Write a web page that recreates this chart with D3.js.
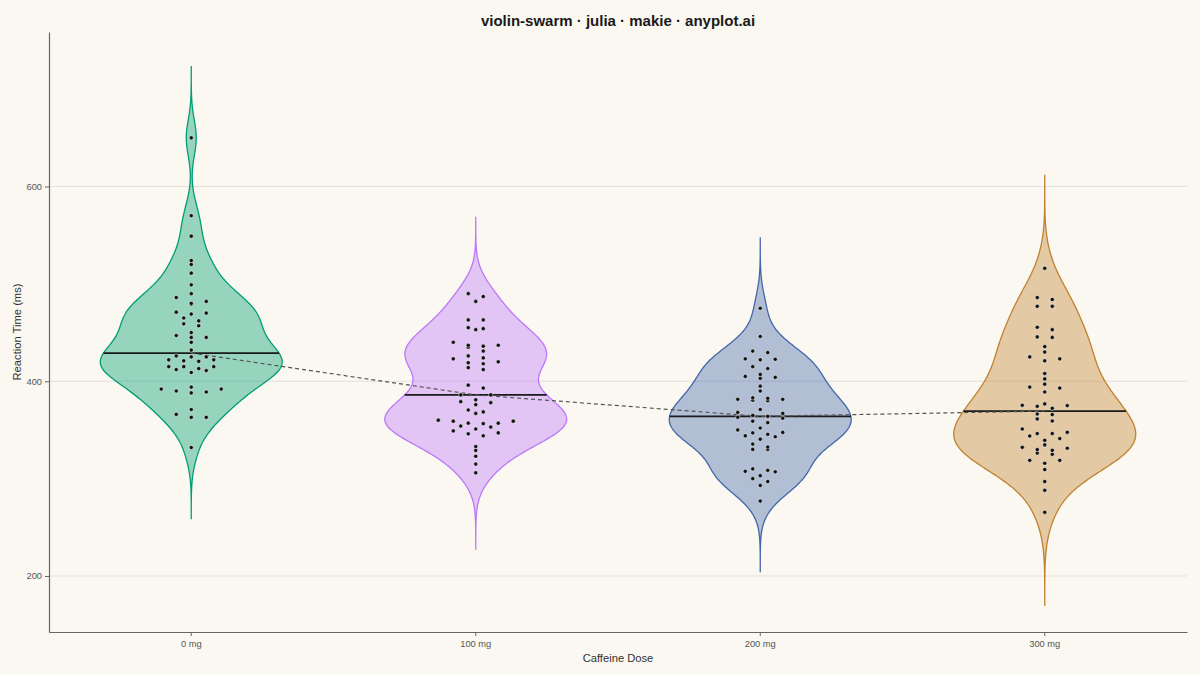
<!DOCTYPE html>
<html>
<head>
<meta charset="utf-8">
<script src="https://cdn.jsdelivr.net/npm/d3@7"></script>
<style>
  html, body { margin: 0; padding: 0; background: #FAF8F1; }
  svg { display: block; font-family: "Liberation Sans", Arial, sans-serif; }
</style>
</head>
<body>
<div id="chart"></div>
<script>
// reaction times (ms) per caffeine dose
const doses = ["0 mg", "100 mg", "200 mg", "300 mg"];
const rt0mg = [650, 570, 549, 524, 520, 511, 499, 490, 486, 482, 480, 479, 471, 470, 469, 465, 462, 459, 457, 450,
  447, 445, 445, 440, 432, 426, 425, 425, 422, 422, 421, 420.5, 415, 415, 415, 413, 412, 411, 409, 394,
  392, 392, 390, 389, 388, 371, 366, 363, 363, 332];
const rt100mg = [490, 487, 482, 463, 463, 455, 454, 453, 440, 437, 437, 436, 435, 431, 426, 424, 423, 420, 419, 418,
  414, 412, 396, 393, 386, 386, 381, 379, 378, 376, 370.5, 368.5, 367, 360, 359, 359, 357, 357, 356.5, 354,
  353, 351, 349, 347, 346, 344, 333, 329, 323, 315, 306];
const rt200mg = [475, 446, 431, 429.5, 423, 422.6, 422, 415, 413, 407, 405, 404, 403, 395, 390, 383, 382.5, 381.5, 381.5, 380.5,
  380, 371, 368, 367, 365, 364, 363, 362, 359, 357.5, 352, 350, 347.5, 347, 345.5, 344, 343, 340.5, 335.5, 332.5,
  330, 330, 310, 308.5, 307.5, 307, 303, 300, 297, 293, 277];
const rt300mg = [516, 486, 484, 477, 477, 455.5, 453, 445.5, 445, 435.6, 430, 425, 423, 421, 408, 402.4, 397, 394, 393, 389,
  376.7, 375.3, 375, 374.3, 372.3, 366.4, 365.8, 361.3, 359.2, 351, 347.6, 346.3, 346.3, 343.8, 341.1, 339.4, 334.6, 332.2, 331.2, 329.8,
  329.1, 326.3, 325, 318.8, 318.8, 315.8, 309.3, 297, 288, 265.4];
const groups = [rt0mg, rt100mg, rt200mg, rt300mg];
const colors = ["#009E73", "#BD77F9", "#4467AA", "#C08231"];
const yTicks = [200, 400, 600];

const width = 1200;
const height = 675;
const margin = { top: 32, right: 13, bottom: 43, left: 49 };

const svg = d3.select("#chart")
  .append("svg")
  .attr("width", width)
  .attr("height", height);

svg.append("rect").attr("width", width).attr("height", height).attr("fill", "#FAF8F1");

const x = d3.scaleBand()
  .domain(doses)
  .range([margin.left, width - margin.right])
  .padding(0);

const y = d3.scaleLinear()
  .domain([142.5, 758.7])
  .range([height - margin.bottom, margin.top]);

const cx = (d) => x(d) + x.bandwidth() / 2;

//grid
svg.append("g")
  .selectAll("line")
  .data(yTicks)
  .enter()
  .append("line")
  .attr("x1", margin.left)
  .attr("x2", width - margin.right)
  .attr("y1", (d) => y(d))
  .attr("y2", (d) => y(d))
  .attr("stroke", "#E3E1DA")
  .attr("stroke-width", 1);

//kde helpers
function silverman(v) {
  const s = d3.deviation(v);
  const sorted = v.slice().sort(d3.ascending);
  const iqr = d3.quantileSorted(sorted, 0.75) - d3.quantileSorted(sorted, 0.25);
  return 0.9 * Math.min(s, iqr / 1.34) * Math.pow(v.length, -0.2);
}
function kde(v, bw, t) {
  return d3.mean(v, (d) => Math.exp(-0.5 * ((t - d) / bw) ** 2)) / (bw * Math.sqrt(2 * Math.PI));
}

const halfMax = 91;
const medians = [];

const violins = svg.append("g");
groups.forEach((v, i) => {
  const bw = silverman(v);
  const lo = d3.min(v) - 4 * bw;
  const hi = d3.max(v) + 4 * bw;
  const grid = d3.range(0, 201).map((k) => lo + (hi - lo) * k / 200);
  const dens = grid.map((t) => [t, kde(v, bw, t)]);
  const dmax = d3.max(dens, (d) => d[1]);
  const w = d3.scaleLinear().domain([0, dmax]).range([0, halfMax]);
  const c = cx(doses[i]);

  const area = d3.area()
    .curve(d3.curveBasis)
    .y((d) => y(d[0]))
    .x0((d) => c - w(d[1]))
    .x1((d) => c + w(d[1]));

  violins.append("path")
    .datum(dens)
    .attr("d", area)
    .attr("fill", colors[i])
    .attr("fill-opacity", 0.4)
    .attr("stroke", colors[i])
    .attr("stroke-width", 1.3);

  const med = d3.median(v);
  medians.push([c, med]);
  const mw = w(kde(v, bw, med));
  violins.append("line")
    .attr("x1", c - mw)
    .attr("x2", c + mw)
    .attr("y1", y(med))
    .attr("y2", y(med))
    .attr("stroke", "#1a1a1a")
    .attr("stroke-width", 1.8);
});

//dashed trend through medians
svg.append("path")
  .datum(medians)
  .attr("fill", "none")
  .attr("stroke", "#555")
  .attr("stroke-width", 1.2)
  .attr("stroke-dasharray", "4,3")
  .attr("d", d3.line().x((d) => d[0]).y((d) => y(d[1])));

//simple beeswarm: bin by pixel height, spread each bin sideways
function swarm(v, c) {
  const binH = 6;
  const dx = 15;
  const pts = v.map((d) => ({ v: d, py: y(d) })).sort((a, b) => a.v - b.v);
  const base = pts[0].py;
  const bins = d3.groups(pts, (p) => Math.floor((base - p.py) / binH));
  bins.forEach(([, b]) => {
    const n = b.length;
    const j = n % 2;
    b.forEach((p, k) => {
      if (j === 1) {
        if (k === 0) p.px = c;
        else {
          const m = Math.floor((k - 1) / 2);
          p.px = c + ((k - 1) % 2 === 0 ? 1 : -1) * (1 + m) * dx;
        }
      } else {
        const m = Math.floor(k / 2);
        p.px = c + (k % 2 === 0 ? 1 : -1) * (0.5 + m) * dx;
      }
    });
  });
  return pts;
}

const dots = svg.append("g");
groups.forEach((v, i) => {
  dots.selectAll(null)
    .data(swarm(v, cx(doses[i])))
    .enter()
    .append("circle")
    .attr("cx", (d) => d.px)
    .attr("cy", (d) => d.py)
    .attr("r", 2.1)
    .attr("fill", "#111")
    .attr("stroke", "#fff")
    .attr("stroke-width", 0.5);
});

//axes
const yAxis = svg.append("g")
  .attr("transform", `translate(${margin.left},0)`)
  .call(d3.axisLeft(y).tickValues(yTicks).tickSize(4).tickSizeOuter(0).tickPadding(3));
const xAxis = svg.append("g")
  .attr("transform", `translate(0,${height - margin.bottom})`)
  .call(d3.axisBottom(x).tickSize(4).tickSizeOuter(0).tickPadding(4));

[yAxis, xAxis].forEach((g) => {
  g.select(".domain").attr("stroke", "#666").attr("stroke-width", 1.2);
  g.selectAll(".tick line").attr("stroke", "#666");
  g.selectAll(".tick text")
    .attr("fill", "#555")
    .style("font-size", "9.3px")
    .style("font-family", "Liberation Sans, Arial, sans-serif");
});

//labels
svg.append("text")
  .attr("x", (margin.left + width - margin.right) / 2)
  .attr("y", 26)
  .attr("text-anchor", "middle")
  .attr("font-size", "15px")
  .attr("font-weight", "bold")
  .attr("fill", "#1a1a1a")
  .text("violin-swarm · julia · makie · anyplot.ai");

svg.append("text")
  .attr("x", (margin.left + width - margin.right) / 2)
  .attr("y", 662)
  .attr("text-anchor", "middle")
  .attr("font-size", "11.2px")
  .attr("fill", "#333")
  .text("Caffeine Dose");

svg.append("text")
  .attr("transform", `translate(21,${(margin.top + height - margin.bottom) / 2}) rotate(-90)`)
  .attr("text-anchor", "middle")
  .attr("font-size", "11.2px")
  .attr("fill", "#333")
  .text("Reaction Time (ms)");
</script>
</body>
</html>
